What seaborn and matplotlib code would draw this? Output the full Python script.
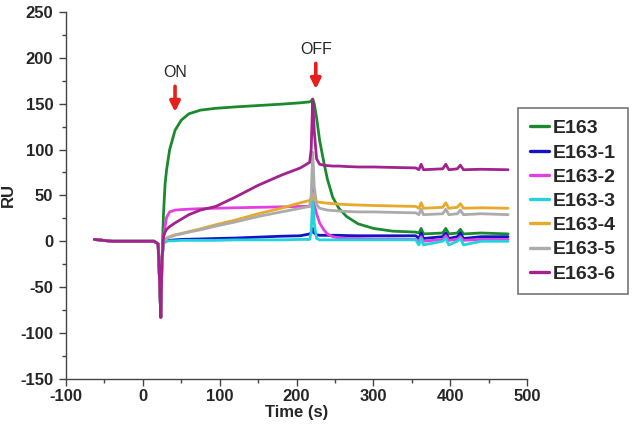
import numpy as np
import pandas as pd
import seaborn as sns
import matplotlib.pyplot as plt
from matplotlib.ticker import MultipleLocator

# shared time grid (s)
time = [-63, -40, -10, 15, 20, 22, 23.5, 25, 27, 29, 31, 35, 42, 50, 60, 75, 95, 120, 150, 180,
        205, 217, 219, 221, 223, 226, 230, 235, 240, 247, 255, 265, 280, 300, 325, 355,
        359, 362, 365, 390, 394, 398, 409, 413, 417, 440, 475]

# injection dip common to all curves (first 8 points)
pre = [2, 0, 0, 0, -3, -45, -83, -20]

e163 = pre + [30, 62, 78, 100, 121, 132, 139, 143, 145, 146.5, 148, 149.5,
              151, 152, 153, 155, 150, 135, 110, 88, 68, 48, 36, 27, 19, 14, 11, 10,
              9, 14, 8, 9, 14, 8, 9, 13, 8, 9, 8]
e163_1 = pre + [-2, 0, 0.5, 1, 1.5, 2, 2.2, 2.5, 3, 3.5, 4.5, 5.5,
                6, 8, 9, 14, 9, 7, 6.5, 6.5, 6.5, 6.5, 6.5, 6.2, 6, 6, 6, 6,
                3, 9, 3, 5, 9, 3, 5, 9, 3, 5, 5]
e163_2 = pre + [5, 16, 26, 32, 34, 34.5, 35, 35.5, 36, 36.5, 37, 37.5,
                38, 38, 40, 60, 40, 30, 20, 13, 8, 5, 3.5, 3, 3, 2.5, 2.5, 2,
                0, 5, 0, 2, 6, 1, 2, 5, 1, 2, 2]
e163_3 = pre + [-3, -1, 0, 0.5, 0.5, 1, 1, 1, 1, 1.5, 1.5, 1.5,
                2, 2, 10, 48, 20, 3, 1.5, 1.5, 1.5, 1.5, 1.5, 1.5, 1.5, 1.5, 1.5, 1.5,
                -4, 3, -4, 0, 3, -4, 0, 3, -4, 0, 0]
e163_4 = pre + [0, 2, 3.5, 5, 7, 8.5, 10.5, 13.5, 18, 23, 30, 36,
                42, 44.5, 45, 52, 46, 43, 42.5, 42, 41.5, 41, 40.5, 40, 39.5, 39, 38.5, 38,
                36, 42, 36, 37, 42, 36, 37, 41, 36, 36.5, 36]
e163_5 = pre + [0, 2, 3, 4.5, 6.5, 8, 10, 12.5, 16.5, 21, 27, 32,
                36, 38, 50, 97, 60, 40, 36, 35, 34, 33.5, 33, 32.5, 32, 32, 31.5, 31,
                29, 35, 29, 30, 35, 29, 30, 34, 29, 30, 29]
e163_6 = pre + [5, 10, 13, 16, 20, 24, 29, 34, 38, 48, 61, 72,
                80, 86, 100, 155, 120, 90, 84, 83, 82.5, 82, 82, 81.5, 81, 81, 80.5, 80,
                78, 84, 78, 79, 84, 78, 79, 83, 78, 78.5, 78]

labels = ['E163', 'E163-1', 'E163-2', 'E163-3', 'E163-4', 'E163-5', 'E163-6']
colors = ['#1b8a2f', '#1414c4', '#e43fe0', '#22d2dc', '#e8a82a', '#ababab', '#a2228e']
series = [e163, e163_1, e163_2, e163_3, e163_4, e163_5, e163_6]

sns.set_style('ticks')
plt.rcParams['font.family'] = ['Liberation Sans', 'DejaVu Sans']
plt.rcParams['axes.unicode_minus'] = False

fig = plt.figure(figsize=(6.33, 4.29), dpi=100)
ax = fig.add_axes([0.104, 0.117, 0.729, 0.855])

for lab, col, vals in zip(labels, colors, series):
    df = pd.DataFrame({'Time': time, 'RU': vals})
    sns.lineplot(data=df, x='Time', y='RU', color=col, label=lab, lw=2.0, ax=ax)

ax.set_xlim(-100, 500)
ax.set_ylim(-150, 250)
ax.xaxis.set_major_locator(MultipleLocator(100))
ax.xaxis.set_minor_locator(MultipleLocator(50))
ax.yaxis.set_major_locator(MultipleLocator(50))
ax.yaxis.set_minor_locator(MultipleLocator(25))
ax.tick_params(which='major', length=5, width=1, color='#444444', labelsize=12, pad=4)
ax.tick_params(axis='x', which='major', pad=2)
ax.tick_params(which='minor', length=3, width=1, color='#444444')
for lbl in ax.get_xticklabels() + ax.get_yticklabels():
    lbl.set_fontweight('bold')
sns.despine(ax=ax)
for s in ['left', 'bottom']:
    ax.spines[s].set_color('#444444')
    ax.spines[s].set_linewidth(1)

ax.set_xlabel('Time (s)', fontsize=12, fontweight='bold', labelpad=1)
ax.set_ylabel('RU', fontsize=12, fontweight='bold', labelpad=3)

# ON / OFF markers
ax.annotate('', xy=(42, 138), xytext=(42, 172),
            arrowprops=dict(arrowstyle='-|>', color='#e8201c', lw=2.6, mutation_scale=15))
ax.text(42, 176, 'ON', ha='center', va='bottom', fontsize=11.5)
ax.annotate('', xy=(225, 163), xytext=(225, 197),
            arrowprops=dict(arrowstyle='-|>', color='#e8201c', lw=2.6, mutation_scale=15))
ax.text(225, 201, 'OFF', ha='center', va='bottom', fontsize=11.5)

leg = ax.legend(loc='upper left', bbox_to_anchor=(518 / 633, 1 - 108 / 429, 110 / 633, 0.0),
                bbox_transform=fig.transFigure, mode='expand',
                frameon=True, fancybox=False, handlelength=1.0, handletextpad=0.2,
                labelspacing=0.34, borderpad=0.6, borderaxespad=0,
                prop={'weight': 'bold', 'size': 14})
leg.get_frame().set_edgecolor('#555555')
leg.get_frame().set_linewidth(1.2)
for line in leg.get_lines():
    line.set_linewidth(2.4)

fig.savefig('out.png', dpi=100)
